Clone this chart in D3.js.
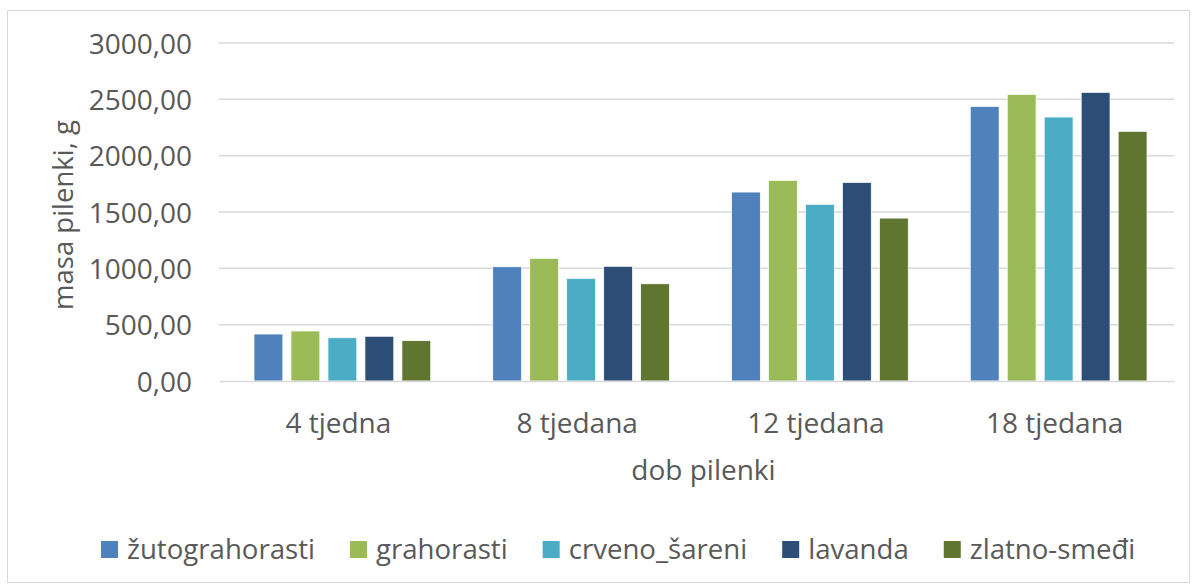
<!DOCTYPE html>
<html>
<head>
<meta charset="utf-8">
<script src="https://cdn.jsdelivr.net/npm/d3@7"></script>
<style>
  body { margin: 0; background: #fff; }
  text { font-family: "Open Sans", "Noto Sans", sans-serif; fill: #595959; }
</style>
</head>
<body>
<script>
// kategorije (dob) i serije (pasmine)
var categories = ["4 tjedna", "8 tjedana", "12 tjedana", "18 tjedana"];
var seriesNames = ["žutograhorasti", "grahorasti", "crveno_šareni", "lavanda", "zlatno-smeđi"];
var zutograhorasti = [417, 1014, 1677, 2437];
var grahorasti = [444, 1089, 1781, 2544];
var crvenoSareni = [384, 911, 1568, 2343];
var lavanda = [397, 1018, 1763, 2562];
var zlatnoSmedi = [358, 863, 1446, 2216];
var yTicks = [0, 500, 1000, 1500, 2000, 2500, 3000];
var colors = ["#4f81bd", "#9bbb59", "#4bacc6", "#2c4d75", "#5f7530"];

var values = [zutograhorasti, grahorasti, crvenoSareni, lavanda, zlatnoSmedi];

// okvir grafa
var W = 1198, H = 585;
var LEFT = 219, RIGHT = 1174, TOP = 43, BOTTOM = 381;

var svg = d3.select("body").append("svg")
  .attr("width", W).attr("height", H);

svg.append("rect")
  .attr("x", 7.5).attr("y", 10.5)
  .attr("width", 1182).attr("height", 572)
  .attr("fill", "#fff").attr("stroke", "#d9d9d9").attr("stroke-width", 1);

var x = d3.scaleBand().domain(categories).range([LEFT, RIGHT]);
var xInner = d3.scaleBand().domain(d3.range(seriesNames.length))
  .range([35, x.bandwidth() - 27]).paddingInner(0.22);
var y = d3.scaleLinear().domain([0, 3000]).range([BOTTOM, TOP]);

// mreza
svg.append("g").selectAll("line").data(yTicks.slice(1)).enter().append("line")
  .attr("x1", LEFT).attr("x2", RIGHT)
  .attr("y1", function (d) { return y(d); }).attr("y2", function (d) { return y(d); })
  .attr("stroke", "#d9d9d9").attr("stroke-width", 1.5);

// Y os
var yAxis = d3.axisLeft(y).tickValues(yTicks).tickSize(0).tickPadding(27)
  .tickFormat(function (d) { return d3.format(".2f")(d).replace(".", ","); });
var yG = svg.append("g").attr("transform", "translate(" + LEFT + ",0)").call(yAxis);
yG.select(".domain").remove();
yG.selectAll("text").style("font-size", "28px").attr("dy", "0.36em").attr("fill", "#595959");

// stupci
var groups = svg.append("g").selectAll("g").data(values).enter().append("g")
  .attr("fill", function (d, i) { return colors[i]; });
groups.each(function (serie, si) {
  d3.select(this).selectAll("rect").data(serie).enter().append("rect")
    .attr("x", function (d, ci) { return x(categories[ci]) + xInner(si); })
    .attr("width", xInner.bandwidth())
    .attr("y", function (d) { return y(d); })
    .attr("height", function (d) { return y(0) - y(d); })
    .attr("stroke", "#fff").attr("stroke-width", 0.75);
});

// X os
var xAxis = d3.axisBottom(x).tickSize(0).tickPadding(32);
var xG = svg.append("g").attr("transform", "translate(0," + BOTTOM + ")").call(xAxis);
xG.select(".domain").attr("stroke", "#d9d9d9").attr("stroke-width", 1.5);
xG.selectAll("text").style("font-size", "28px").attr("fill", "#595959");

// naslovi osi
svg.append("text")
  .attr("x", (LEFT + RIGHT) / 2 + 7).attr("y", 480)
  .attr("text-anchor", "middle").style("font-size", "28px")
  .text("dob pilenki");
svg.append("text")
  .attr("transform", "translate(73,215) rotate(-90)")
  .attr("text-anchor", "middle").style("font-size", "27.5px")
  .text("masa pilenki, g");

// legenda
var legend = svg.append("g").attr("transform", "translate(101,549.5)");
var lx = 0;
seriesNames.forEach(function (name, i) {
  var item = legend.append("g").attr("transform", "translate(" + lx + ",0)");
  item.append("rect").attr("x", 0).attr("y", -8.5).attr("width", 17).attr("height", 17)
    .attr("fill", colors[i]);
  var t = item.append("text").attr("x", 26).attr("y", 0).attr("dy", "0.33em")
    .style("font-size", "27.6px").text(name);
  lx += 26 + t.node().getComputedTextLength() + 35;
});
</script>
</body>
</html>
